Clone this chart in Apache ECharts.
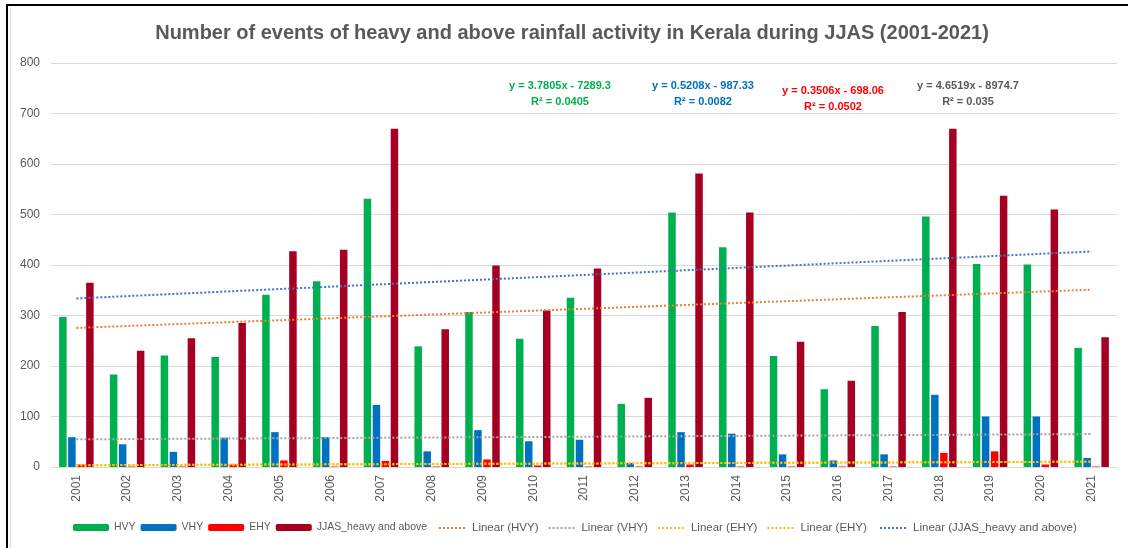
<!DOCTYPE html>
<html>
<head>
<meta charset="utf-8">
<script src="https://cdn.jsdelivr.net/npm/echarts@6/dist/echarts.min.js"></script>
<style>
  html, body { margin: 0; padding: 0; background: #fff; }
  #wrap { position: relative; width: 1128px; height: 548px; overflow: hidden; }
  #chart { position: absolute; left: 0; top: 0; width: 1128px; height: 548px; }
  .frame { position: absolute; left: 6px; top: 4px; width: 1130px; height: 560px;
           border-left: 2px solid #000; border-top: 2px solid #000; pointer-events: none; }
  .inner { position: absolute; left: 10px; top: 7px; width: 1130px; height: 560px;
           border-left: 1px solid #d9d9d9; pointer-events: none; }
</style>
</head>
<body>
<div id="wrap">
  <div id="chart"></div>
  <div class="frame"></div>
  <div class="inner"></div>
</div>
<script>
// years
const years = ['2001', '2002', '2003', '2004', '2005', '2006', '2007', '2008', '2009', '2010', '2011',
  '2012', '2013', '2014', '2015', '2016', '2017', '2018', '2019', '2020', '2021']

// event counts
const hvy = [297, 183, 221, 218, 341, 368, 531, 239, 307, 254, 335, 125, 504, 435, 220, 154, 279, 496, 402, 401, 236]
const vhy = [59, 45, 30, 58, 69, 59, 123, 31, 73, 51, 54, 8, 69, 66, 25, 13, 25, 143, 100, 100, 18]
const ehy = [5, 1, 1, 5, 13, 1, 12, 1, 15, 3, 1, 1, 5, 1, 1, 1, 1, 28, 31, 5, 1]
const jjas = [365, 230, 255, 285, 427, 430, 670, 273, 399, 310, 393, 137, 581, 504, 248, 171, 307, 670, 537, 510, 257]

// trendline coefficients as printed on the chart (y = a*x + b, x = year)
const trendSlope = [3.7805, 0.5208, 0.3506, 4.6519]
const trendIntercept = [-7289.3, -987.33, -698.06, -8974.7]
const trendText = [
  ['y = 3.7805x - 7289.3', 'R² = 0.0405'],
  ['y = 0.5208x - 987.33', 'R² = 0.0082'],
  ['y = 0.3506x - 698.06', 'R² = 0.0502'],
  ['y = 4.6519x - 8974.7', 'R² = 0.035']
]

const yTicks = [0, 100, 200, 300, 400, 500, 600, 700, 800]

function trend(i) {
  return years.map(y => +(trendSlope[i] * Number(y) + trendIntercept[i]).toFixed(2))
}

const myChart = echarts.init(document.getElementById('chart'))
const font = 'Liberation Sans'
const grey = '#595959'

function bar(name, data, color) {
  return {
    name: name, type: 'bar', data: data,
    barGap: '20%', barCategoryGap: '32%',
    itemStyle: { color: color },
    emphasis: { disabled: true }
  }
}
function tline(name, data, color) {
  return {
    name: name, type: 'line', data: data, symbol: 'none', z: 5,
    lineStyle: { color: color, width: 2, type: [2, 2] },
    itemStyle: { color: color },
    emphasis: { disabled: true }
  }
}

function eqText(x, y, lines, color) {
  return lines.map((t, k) => ({
    type: 'text', x: x, y: y + k * 16,
    style: {
      text: t, fill: color, font: 'bold 11px ' + font,
      textAlign: 'center', textVerticalAlign: 'middle', align: 'center', verticalAlign: 'middle'
    }
  }))
}

let option = {
  animation: false,
  title: {
    text: 'Number of events of heavy and above rainfall activity in Kerala during JJAS (2001-2021)',
    left: 567, top: 18, textAlign: 'center',
    textStyle: { color: grey, fontSize: 20, fontWeight: 'bold', fontFamily: font }
  },
  grid: { left: 51, right: 11, top: 63, bottom: 81 },
  legend: [
    {
      data: ['HVY', 'VHY', 'EHY', 'JJAS_heavy and above'],
      left: 68, top: 517, itemWidth: 36, itemHeight: 7, itemGap: 5,
      textStyle: { color: grey, fontSize: 10.5, fontFamily: font },
      selectedMode: false
    },
    {
      data: ['Linear (HVY)', 'Linear (VHY)', 'Linear (EHY)', 'Linear (EHY) ', 'Linear (JJAS_heavy and above)'],
      left: 433, top: 517, itemWidth: 28, itemHeight: 7, itemGap: 9,
      itemStyle: { opacity: 0 },
      textStyle: { color: grey, fontSize: 11.5, fontFamily: font },
      selectedMode: false
    }
  ],
  xAxis: {
    type: 'category', data: years,
    axisLine: { lineStyle: { color: '#d9d9d9' } },
    axisTick: { show: false },
    axisLabel: { rotate: 90, margin: 8, color: grey, fontSize: 12, fontFamily: font, interval: 0 }
  },
  yAxis: {
    type: 'value', min: yTicks[0], max: yTicks[yTicks.length - 1], interval: 100,
    axisLine: { show: false }, axisTick: { show: false },
    axisLabel: { color: grey, fontSize: 12, fontFamily: font, margin: 11 },
    splitLine: { lineStyle: { color: '#d9d9d9', width: 1 } }
  },
  series: [
    bar('HVY', hvy, '#00b050'),
    bar('VHY', vhy, '#0070c0'),
    bar('EHY', ehy, '#ff0000'),
    bar('JJAS_heavy and above', jjas, '#a50021'),
    tline('Linear (HVY)', trend(0), '#ed7d31'),
    tline('Linear (VHY)', trend(1), '#a5a5a5'),
    tline('Linear (EHY)', trend(2), '#ffc000'),
    tline('Linear (EHY) ', trend(2), '#ffc000'),
    tline('Linear (JJAS_heavy and above)', trend(3), '#4472c4')
  ],
  graphic: [].concat(
    eqText(560, 86, trendText[0], '#00b050'),
    eqText(703, 86, trendText[1], '#0070c0'),
    eqText(833, 91, trendText[2], '#ff0000'),
    eqText(968, 86, trendText[3], grey)
  )
}

myChart.setOption(option)
</script>
</body>
</html>
